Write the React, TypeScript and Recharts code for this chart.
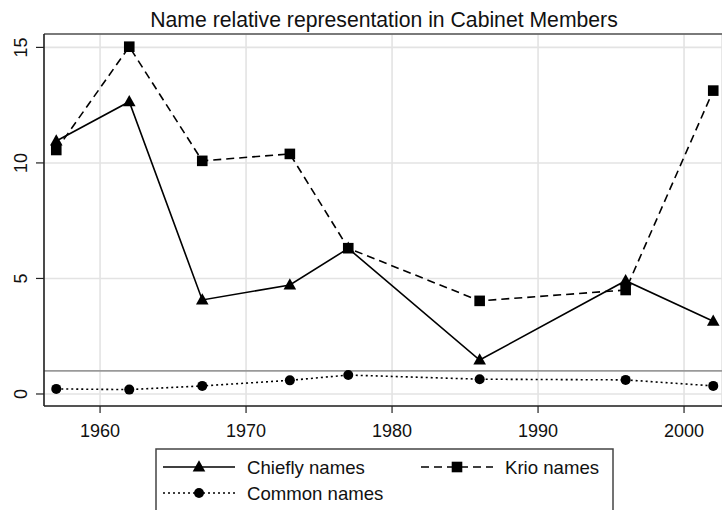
import { LineChart, Line, XAxis, YAxis, CartesianGrid, ReferenceLine } from "recharts";

const years = [1957, 1962, 1967, 1973, 1977, 1986, 1996, 2002];
const chiefly = [10.95, 12.65, 4.07, 4.72, 6.3, 1.47, 4.9, 3.15];
const krio = [10.56, 15.03, 10.09, 10.39, 6.31, 4.03, 4.5, 13.13];
const common = [0.22, 0.19, 0.35, 0.59, 0.82, 0.64, 0.61, 0.35];

const xTicks = [1960, 1970, 1980, 1990, 2000];
const yTicks = [0, 5, 10, 15];
const xDomain = [1956.16, 2002.6];
const yDomain = [-0.52, 15.58];
const refValue = 1;

const title = "Name relative representation in Cabinet Members";
const seriesNames = ["Chiefly names", "Krio names", "Common names"];

const data = years.map((year, i) => ({
  year,
  chiefly: chiefly[i],
  krio: krio[i],
  common: common[i],
}));

const FONT = "'Liberation Sans', Arial, sans-serif";

const Triangle = ({ cx, cy }: any) => (
  <path d={`M${cx},${cy - 6.8} L${cx + 6.3},${cy + 4.6} L${cx - 6.3},${cy + 4.6} Z`} fill="#000" />
);
const Square = ({ cx, cy }: any) => <rect x={cx - 5.3} y={cy - 5.3} width={10.6} height={10.6} fill="#000" />;
const Circle = ({ cx, cy }: any) => <circle cx={cx} cy={cy} r={5} fill="#000" />;

const XTick = ({ x, y, payload }: any) => (
  <text x={x} y={y + 22} textAnchor="middle" fontSize={18} fontFamily={FONT} fill="#111">
    {payload.value}
  </text>
);

const YTick = ({ y, payload }: any) => (
  <g transform={`translate(27, ${y}) rotate(-90)`}>
    <text x={0} y={0} textAnchor="middle" fontSize={18} fontFamily={FONT} fill="#111">
      {payload.value}
    </text>
  </g>
);

const LegendRow = ({ x, y, dash, marker, label }: any) => (
  <g>
    <line x1={x} x2={x + 72} y1={y} y2={y} stroke="#000" strokeWidth={1.6} strokeDasharray={dash} />
    {marker(x + 36, y)}
    <text x={x + 84} y={y + 6.5} fontSize={18.6} fontFamily={FONT} fill="#111">
      {label}
    </text>
  </g>
);

export default function App() {
  return (
    <div style={{ position: "absolute", left: 0, top: 0, width: 722, height: 510, overflow: "hidden", background: "#fff" }}>
      <LineChart width={722} height={510} data={data} margin={{ top: 34, right: 0, bottom: 0, left: 0 }}>
        <CartesianGrid stroke="#e3e3e3" strokeWidth={1.6} />
        <XAxis
          dataKey="year"
          type="number"
          domain={xDomain}
          ticks={xTicks}
          allowDataOverflow
          height={104}
          tickSize={7}
          tick={<XTick />}
          axisLine={{ stroke: "#222", strokeWidth: 1.6 }}
          tickLine={{ stroke: "#222", strokeWidth: 1.2 }}
        />
        <YAxis
          type="number"
          domain={yDomain}
          ticks={yTicks}
          allowDataOverflow
          width={44}
          tickSize={8}
          tick={<YTick />}
          axisLine={{ stroke: "#222", strokeWidth: 1.6 }}
          tickLine={{ stroke: "#222", strokeWidth: 1.2 }}
        />
        <ReferenceLine y={yDomain[1]} stroke="#555" strokeWidth={1.6} />
        <ReferenceLine y={refValue} stroke="#9a9a9a" strokeWidth={1.6} />
        <Line
          dataKey="chiefly"
          stroke="#000"
          strokeWidth={1.6}
          dot={(p: any) => <Triangle key={`t${p.index}`} cx={p.cx} cy={p.cy} />}
          activeDot={false}
          isAnimationActive={false}
        />
        <Line
          dataKey="krio"
          stroke="#000"
          strokeWidth={1.6}
          strokeDasharray="8 5"
          dot={(p: any) => <Square key={`s${p.index}`} cx={p.cx} cy={p.cy} />}
          activeDot={false}
          isAnimationActive={false}
        />
        <Line
          dataKey="common"
          stroke="#000"
          strokeWidth={1.6}
          strokeDasharray="2 3"
          dot={(p: any) => <Circle key={`c${p.index}`} cx={p.cx} cy={p.cy} />}
          activeDot={false}
          isAnimationActive={false}
        />
      </LineChart>
      <svg width={722} height={510} style={{ position: "absolute", left: 0, top: 0, pointerEvents: "none" }}>
        <text x={384} y={27} textAnchor="middle" fontSize={21.2} fontFamily={FONT} fill="#111">
          {title}
        </text>
        <rect x={156} y={449} width={457} height={80} fill="none" stroke="#444" strokeWidth={1.5} />
        <LegendRow x={163} y={467} label={seriesNames[0]} marker={(cx: number, cy: number) => <Triangle cx={cx} cy={cy} />} />
        <LegendRow x={421} y={467} dash="8 5" label={seriesNames[1]} marker={(cx: number, cy: number) => <Square cx={cx} cy={cy} />} />
        <LegendRow x={163} y={493} dash="2 3" label={seriesNames[2]} marker={(cx: number, cy: number) => <Circle cx={cx} cy={cy} />} />
      </svg>
    </div>
  );
}
